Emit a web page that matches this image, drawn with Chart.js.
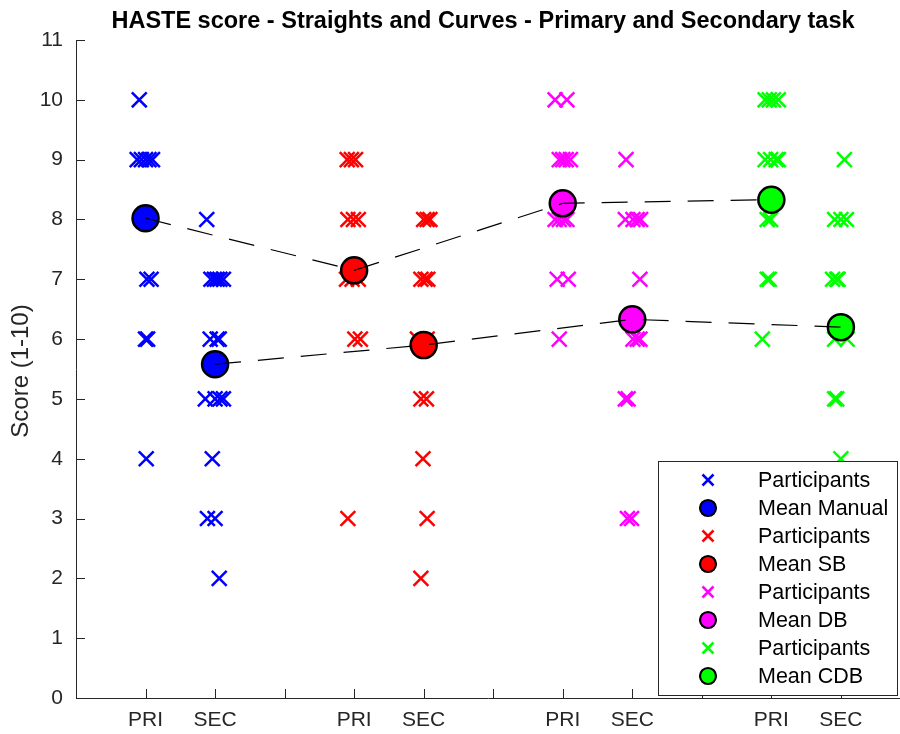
<!DOCTYPE html>
<html>
<head>
<meta charset="utf-8">
<script src="https://cdn.jsdelivr.net/npm/chart.js@4"></script>
<style>
    html, body { margin: 0; padding: 0; background: #fff; }
    #wrap { width: 900px; height: 734px; }
</style>
</head>
<body>
<div id="wrap"><canvas id="grafico" width="900" height="734"></canvas></div>
<script>
// Posições dos grupos no eixo x
const priX = [1, 4, 7, 10];
const secX = [2, 5, 8, 11];
const xTickPos = [1, 2, 3, 4, 5, 6, 7, 8, 9, 10, 11];
const xTickLabels = ['PRI', 'SEC', '', 'PRI', 'SEC', '', 'PRI', 'SEC', '', 'PRI', 'SEC'];
const yTicks = [0, 1, 2, 3, 4, 5, 6, 7, 8, 9, 10, 11];

// Notas dos participantes (y) e deslocamento horizontal (jitter, em unidades de x)
const manualPri = [10, 9, 9, 9, 9, 9, 7, 7, 6, 6, 4];
const manualPriDx = [-0.09, -0.12, -0.06, 0, 0.05, 0.1, 0.02, 0.08, 0, 0.03, 0.01];
const manualSec = [8, 7, 7, 7, 7, 7, 6, 6, 6, 5, 5, 5, 5, 4, 3, 3, 2];
const manualSecDx = [-0.12, -0.06, -0.01, 0.03, 0.07, 0.12, -0.07, 0.03, 0.06, -0.14, 0, 0.07, 0.12, -0.04, -0.11, 0, 0.06];

const sbPri = [9, 9, 9, 8, 8, 8, 7, 7, 7, 6, 6, 3];
const sbPriDx = [-0.1, -0.04, 0.02, -0.09, -0.01, 0.06, -0.11, -0.03, 0.06, 0.01, 0.09, -0.09];
const sbSec = [8, 8, 8, 7, 7, 7, 6, 6, 5, 5, 4, 3, 2];
const sbSecDx = [0, 0.05, 0.09, -0.04, 0.02, 0.06, -0.09, 0.05, -0.04, 0.04, -0.01, 0.05, -0.04];

const dbPri = [10, 10, 9, 9, 9, 9, 8, 8, 8, 8, 7, 7, 6];
const dbPriDx = [-0.11, 0.06, -0.05, 0, 0.05, 0.11, -0.11, -0.05, 0.01, 0.06, -0.08, 0.08, -0.05];
const dbSec = [9, 8, 8, 8, 8, 7, 6, 6, 6, 5, 5, 3, 3];
const dbSecDx = [-0.09, -0.1, 0.01, 0.07, 0.12, 0.11, 0.01, 0.07, 0.11, -0.1, -0.06, -0.07, -0.01];

const cdbPri = [10, 10, 10, 10, 9, 9, 9, 9, 8, 8, 7, 7, 6];
const cdbPriDx = [-0.09, -0.03, 0.03, 0.1, -0.09, -0.01, 0.07, 0.1, -0.06, -0.01, -0.06, -0.03, -0.13];
const cdbSec = [9, 8, 8, 8, 7, 7, 7, 6, 6, 5, 5, 4];
const cdbSecDx = [0.05, -0.09, 0, 0.08, -0.12, -0.06, -0.04, -0.09, 0.09, -0.09, -0.06, 0];

// Médias por condição: [PRI, SEC]
const meanPri = [8.02, 7.15, 8.27, 8.33];
const meanSec = [5.58, 5.9, 6.33, 6.2];
const condicoes = ['Manual', 'SB', 'DB', 'CDB'];
const cores = ['#0000ff', '#ff0000', '#ff00ff', '#00ff00'];

const FONTE = "'Liberation Sans', Arial, Helvetica, sans-serif";

function pontos(pri, priDx, sec, secDx, i) {
    return [
        ...pri.map((y, k) => ({ x: priX[i] + priDx[k], y })),
        ...sec.map((y, k) => ({ x: secX[i] + secDx[k], y }))
    ];
}

const participantes = [
    pontos(manualPri, manualPriDx, manualSec, manualSecDx, 0),
    pontos(sbPri, sbPriDx, sbSec, sbSecDx, 1),
    pontos(dbPri, dbPriDx, dbSec, dbSecDx, 2),
    pontos(cdbPri, cdbPriDx, cdbSec, cdbSecDx, 3)
];

const datasets = [];
condicoes.forEach((nome, i) => {
    datasets.push({
        label: 'Participants',
        data: participantes[i],
        pointStyle: 'crossRot',
        pointRadius: 10.5,
        pointBorderWidth: 2.5,
        borderColor: cores[i],
        backgroundColor: cores[i],
        showLine: false,
        order: 2
    });
    datasets.push({
        label: 'Mean ' + nome,
        data: [{ x: priX[i], y: meanPri[i] }, { x: secX[i], y: meanSec[i] }],
        pointStyle: 'circle',
        pointRadius: 13,
        pointBorderWidth: 2.5,
        borderColor: '#000',
        backgroundColor: cores[i],
        showLine: false,
        order: 1
    });
});
// Linhas tracejadas ligando as médias
[meanPri, meanSec].forEach((m, j) => {
    const xs = j === 0 ? priX : secX;
    datasets.push({
        label: '',
        semLegenda: true,
        data: xs.map((x, i) => ({ x, y: m[i] })),
        showLine: true,
        borderColor: '#000',
        borderWidth: 1.2,
        borderDash: [26, 17],
        pointRadius: 0,
        fill: false,
        order: 0
    });
});

// Marcas dos eixos para dentro (estilo MATLAB)
const marcas = {
    id: 'marcas',
    beforeDatasetsDraw(chart) {
        const { ctx, chartArea, scales: { x, y } } = chart;
        ctx.save();
        ctx.strokeStyle = '#262626';
        ctx.lineWidth = 1;
        ctx.beginPath();
        xTickPos.forEach(v => {
            const px = Math.round(x.getPixelForValue(v)) + 0.5;
            ctx.moveTo(px, chartArea.bottom);
            ctx.lineTo(px, chartArea.bottom - 9);
        });
        yTicks.forEach(v => {
            const py = Math.round(y.getPixelForValue(v)) + 0.5;
            ctx.moveTo(chartArea.left, py);
            ctx.lineTo(chartArea.left + 9, py);
        });
        ctx.stroke();
        ctx.restore();
    }
};

// Título, rótulo do eixo y e legenda
const extras = {
    id: 'extras',
    afterDraw(chart) {
        const { ctx, chartArea } = chart;
        ctx.save();
        ctx.fillStyle = '#000';
        ctx.font = 'bold 23.5px ' + FONTE;
        ctx.textAlign = 'center';
        ctx.textBaseline = 'middle';
        ctx.fillText('HASTE score - Straights and Curves - Primary and Secondary task', 483, 22);

        ctx.fillStyle = '#262626';
        ctx.font = '24px ' + FONTE;
        ctx.translate(21, 371);
        ctx.rotate(-Math.PI / 2);
        ctx.fillText('Score (1-10)', 0, 0);
        ctx.restore();

        // Legenda
        const bx = 658.5, by = 461.5, bw = 239, bh = 234;
        ctx.save();
        ctx.fillStyle = '#fff';
        ctx.fillRect(bx, by, bw, bh);
        ctx.strokeStyle = '#262626';
        ctx.lineWidth = 1;
        ctx.strokeRect(bx, by, bw, bh);
        const itens = chart.data.datasets.filter(d => !d.semLegenda);
        ctx.font = '21.5px ' + FONTE;
        ctx.textAlign = 'left';
        ctx.textBaseline = 'middle';
        itens.forEach((d, k) => {
            const cy = 480 + k * 28;
            const cx = 708;
            if (d.pointStyle === 'crossRot') {
                const h = 5.5;
                ctx.strokeStyle = d.borderColor;
                ctx.lineWidth = 2.5;
                ctx.beginPath();
                ctx.moveTo(cx - h, cy - h); ctx.lineTo(cx + h, cy + h);
                ctx.moveTo(cx - h, cy + h); ctx.lineTo(cx + h, cy - h);
                ctx.stroke();
            } else {
                ctx.fillStyle = d.backgroundColor;
                ctx.strokeStyle = '#000';
                ctx.lineWidth = 2.2;
                ctx.beginPath();
                ctx.arc(cx, cy, 8, 0, Math.PI * 2);
                ctx.fill();
                ctx.stroke();
            }
            ctx.fillStyle = '#000';
            ctx.fillText(d.label, 758, cy + 1);
        });
        ctx.restore();
    }
};

new Chart(document.getElementById('grafico'), {
    type: 'scatter',
    data: { datasets },
    options: {
        responsive: false,
        animation: false,
        events: [],
        devicePixelRatio: 1,
        layout: { autoPadding: false, padding: { top: 40, left: 0, right: 0, bottom: 0 } },
        plugins: { legend: { display: false }, title: { display: false }, tooltip: { enabled: false } },
        scales: {
            x: {
                type: 'linear',
                min: 0,
                max: 11.85,
                afterBuildTicks: s => { s.ticks = xTickPos.map(v => ({ value: v })); },
                afterFit: s => { s.height = 36; },
                ticks: {
                    callback: v => {
                        const k = xTickPos.indexOf(v);
                        return k >= 0 ? xTickLabels[k] : '';
                    },
                    font: { size: 21, family: FONTE },
                    color: '#262626',
                    padding: 10,
                    maxRotation: 0,
                    autoSkip: false
                },
                grid: { display: false, drawTicks: false },
                border: { display: true, color: '#262626', width: 1 }
            },
            y: {
                type: 'linear',
                min: 0,
                max: 11,
                afterBuildTicks: s => { s.ticks = yTicks.map(v => ({ value: v })); },
                afterFit: s => { s.width = 76; },
                ticks: {
                    font: { size: 21, family: FONTE },
                    color: '#262626',
                    padding: 13
                },
                grid: { display: false, drawTicks: false },
                border: { display: true, color: '#262626', width: 1 }
            }
        }
    },
    plugins: [marcas, extras]
});
</script>
</body>
</html>
